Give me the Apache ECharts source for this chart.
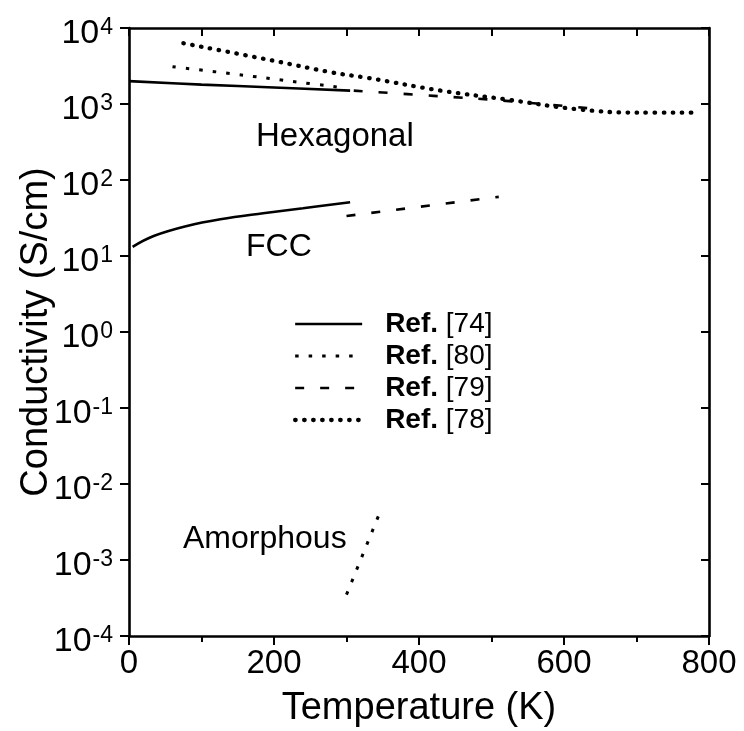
<!DOCTYPE html>
<html>
<head>
<meta charset="utf-8">
<style>
  html, body { margin: 0; padding: 0; background: #fff; }
  #chart { width: 744px; height: 731px; }
</style>
<script src="https://cdn.jsdelivr.net/npm/echarts@6/dist/echarts.min.js"></script>
</head>
<body>
<div id="chart"></div>
<script>
// Temperature (K) and conductivity (S/cm) for each curve
const hex74T = [0, 100, 200, 305];
const hex74S = [2000, 1800, 1650, 1500];
const fcc74T = [5, 34, 80, 126, 185, 240, 305];
const fcc74S = [13.2, 18.3, 24.8, 30.4, 36.5, 42.5, 51];

const hex80T = [60, 146, 237, 300];
const hex80S = [3100, 2470, 1920, 1620];
const amo80T = [300, 348];
const amo80S = [3.5e-4, 4.7e-3];

const hex79T = [310, 420, 520, 650];
const hex79S = [1500, 1280, 1100, 850];
const fcc79T = [300, 510];
const fcc79S = [33.6, 60];

const hex78T = [75, 200, 280, 330, 430, 520, 620, 700, 782];
const hex78S = [6300, 3700, 2600, 2200, 1500, 1150, 850, 770, 770];

const legendNames = ['Ref. [74]', 'Ref. [80]', 'Ref. [79]', 'Ref. [78]'];
const xTicks = [0, 200, 400, 600, 800];

const FONT = '"Liberation Sans", Arial, Helvetica, sans-serif';

function pairs(t, s) { return t.map((x, i) => [x, s[i]]); }

const styles = {
  'Ref. [74]': { type: 'solid', width: 2.6, cap: 'butt' },
  'Ref. [80]': { type: [3.5, 10], width: 3, cap: 'butt' },
  'Ref. [79]': { type: [9, 16], width: 2.6, cap: 'butt' },
  'Ref. [78]': { type: [0.5, 8.5], width: 4.3, cap: 'round' }
};

function curve(name, t, s, smooth) {
  return {
    name: name,
    type: 'line',
    symbol: 'circle',
    symbolSize: 0,
    showSymbol: false,
    smooth: smooth ? 0.4 : false,
    data: pairs(t, s),
    lineStyle: Object.assign({ color: '#000' }, styles[name]),
    itemStyle: { color: '#000', opacity: 0 },
    z: 3
  };
}

const axisLineStyle = { color: '#000', width: 2.6 };
const tickStyle = { color: '#000', width: 2 };

const chart = echarts.init(document.getElementById('chart'), null, { renderer: 'canvas' });

const option = {
  animation: false,
  backgroundColor: '#fff',
  textStyle: { fontFamily: FONT, color: '#000' },
  grid: { left: 129, top: 28, right: 35, bottom: 95, containLabel: false, outerBoundsMode: 'none' },
  legend: {
    data: legendNames,
    orient: 'vertical',
    left: 288,
    top: 305,
    itemWidth: 67,
    itemHeight: 14,
    itemGap: 4,
    selectedMode: false,
    itemStyle: { opacity: 0 },
    lineStyle: { width: 'inherit', type: 'inherit', cap: 'inherit', color: '#000' },
    formatter: function (name) {
      const parts = name.split(' ');
      return '{g|}{b|' + parts[0] + '} {n|' + parts[1] + '}';
    },
    textStyle: {
      color: '#000',
      fontFamily: FONT,
      fontSize: 28,
      lineHeight: 28,
      rich: {
        g: { width: 18, lineHeight: 28 },
        b: { fontWeight: 'bold', fontSize: 28, fontFamily: FONT, color: '#000', lineHeight: 28 },
        n: { fontSize: 28, fontFamily: FONT, color: '#000', lineHeight: 28 }
      }
    }
  },
  xAxis: [
    {
      type: 'value',
      position: 'bottom',
      min: 0,
      max: 800,
      interval: 200,
      name: 'Temperature (K)',
      nameLocation: 'middle',
      nameGap: 54,
      nameMoveOverlap: false,
      nameTextStyle: { fontSize: 38, color: '#000', fontFamily: FONT },
      axisLine: { show: true, onZero: false, lineStyle: axisLineStyle },
      axisTick: { show: true, inside: false, length: 9, lineStyle: tickStyle },
      minorTick: { show: true, splitNumber: 2, length: 6, lineStyle: tickStyle },
      axisLabel: {
        fontSize: 33, color: '#000', fontFamily: FONT, margin: 11,
        formatter: function (v) { return xTicks.indexOf(v) >= 0 ? String(v) : ''; }
      },
      splitLine: { show: false }
    },
    {
      type: 'value',
      position: 'top',
      min: 0,
      max: 800,
      interval: 100,
      axisLine: { show: true, onZero: false, lineStyle: axisLineStyle },
      axisTick: { show: true, inside: true, length: 8, lineStyle: tickStyle },
      axisLabel: { show: false },
      splitLine: { show: false }
    }
  ],
  yAxis: [
    {
      type: 'log',
      logBase: 10,
      position: 'left',
      min: 1e-4,
      max: 1e4,
      splitNumber: 8,
      name: 'Conductivity (S/cm)',
      nameLocation: 'middle',
      nameGap: 73,
      nameMoveOverlap: false,
      nameRotate: 90,
      nameTextStyle: { fontSize: 38, color: '#000', fontFamily: FONT },
      axisLine: { show: true, onZero: false, lineStyle: axisLineStyle },
      axisTick: { show: true, inside: false, length: 9, lineStyle: tickStyle },
      axisLabel: {
        margin: 16,
        color: '#000',
        padding: [12, 0, 0, 0],
        formatter: function (v) {
          const e = Math.round(Math.log10(v));
          return '{b|10}{s|' + e + '}';
        },
        rich: {
          b: { fontSize: 34, fontFamily: FONT, color: '#000', lineHeight: 36 },
          s: { fontSize: 23, fontFamily: FONT, color: '#000', verticalAlign: 'top', lineHeight: 23, padding: [0, 0, 0, 1] }
        }
      },
      splitLine: { show: false },
      minorTick: { show: false }
    },
    {
      type: 'log',
      logBase: 10,
      position: 'right',
      min: 1e-4,
      max: 1e4,
      splitNumber: 8,
      axisLine: { show: true, onZero: false, lineStyle: axisLineStyle },
      axisTick: { show: true, inside: true, length: 8, lineStyle: tickStyle },
      axisLabel: { show: false },
      splitLine: { show: false }
    }
  ],
  series: [
    curve('Ref. [74]', hex74T, hex74S, true),
    curve('Ref. [74]', fcc74T, fcc74S, true),
    curve('Ref. [80]', hex80T, hex80S, true),
    curve('Ref. [80]', amo80T, amo80S, false),
    curve('Ref. [79]', hex79T, hex79S, true),
    curve('Ref. [79]', fcc79T, fcc79S, false),
    curve('Ref. [78]', hex78T, hex78S, true)
  ],
  graphic: [
    { type: 'text', left: 256, top: 120, style: { text: 'Hexagonal', font: '33px ' + FONT, fill: '#000' } },
    { type: 'text', left: 246, top: 231, style: { text: 'FCC', font: '32px ' + FONT, fill: '#000' } },
    { type: 'text', left: 183, top: 523, style: { text: 'Amorphous', font: '32px ' + FONT, fill: '#000' } }
  ]
};

chart.setOption(option);
</script>
</body>
</html>
